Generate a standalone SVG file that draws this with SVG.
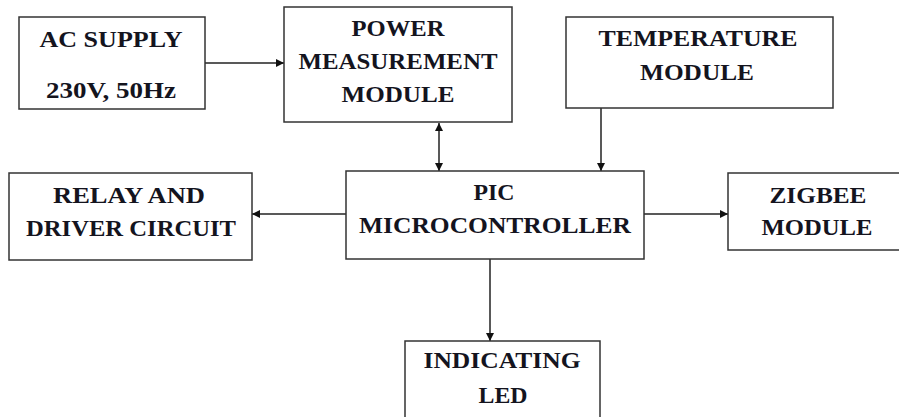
<svg xmlns="http://www.w3.org/2000/svg" width="899" height="417" viewBox="0 0 899 417">
<defs>
<style>
.box{fill:#fff;stroke:#333;stroke-width:1.5}
.t{font-family:'Liberation Serif','Times New Roman',Times,serif;font-weight:700;font-size:23px;fill:#14141e;text-anchor:middle}
.c{stroke:#222;stroke-width:1.5;fill:none}
</style>
<marker id="ah" viewBox="0 0 10 10" refX="10" refY="5" markerWidth="9" markerHeight="8" markerUnits="userSpaceOnUse" orient="auto-start-reverse">
<path d="M0,0 L10,5 L0,10 Z" fill="#111"/>
</marker>
</defs>
<rect width="899" height="417" fill="#fff"/>
<g id="connectors">
<line class="c" x1="205" y1="63" x2="284" y2="63" marker-end="url(#ah)"/>
<line class="c" x1="439" y1="123" x2="439" y2="171" marker-start="url(#ah)" marker-end="url(#ah)"/>
<line class="c" x1="601" y1="108" x2="601" y2="171" marker-end="url(#ah)"/>
<line class="c" x1="346" y1="214" x2="252" y2="214" marker-end="url(#ah)"/>
<line class="c" x1="644" y1="214" x2="728" y2="214" marker-end="url(#ah)"/>
<line class="c" x1="490" y1="259" x2="490" y2="341" marker-end="url(#ah)"/>
</g>
<g id="ac-supply">
<rect class="box" x="19" y="17" width="186" height="92"/>
<text class="t" font-family="Liberation Serif" x="111" y="47" textLength="143" lengthAdjust="spacingAndGlyphs">AC SUPPLY</text>
<text class="t" font-family="Liberation Serif" x="111" y="98" textLength="130" lengthAdjust="spacingAndGlyphs">230V, 50Hz</text>
</g>
<g id="power-measurement">
<rect class="box" x="284" y="7" width="228" height="115"/>
<text class="t" x="398" y="36" textLength="93" lengthAdjust="spacingAndGlyphs">POWER</text>
<text class="t" x="398" y="69" textLength="199" lengthAdjust="spacingAndGlyphs">MEASUREMENT</text>
<text class="t" x="398" y="102" textLength="113" lengthAdjust="spacingAndGlyphs">MODULE</text>
</g>
<g id="temperature">
<rect class="box" x="566" y="17" width="267" height="91"/>
<text class="t" x="698" y="46" textLength="199" lengthAdjust="spacingAndGlyphs">TEMPERATURE</text>
<text class="t" x="697" y="80" textLength="114" lengthAdjust="spacingAndGlyphs">MODULE</text>
</g>
<g id="pic">
<rect class="box" x="346" y="171" width="298" height="88"/>
<text class="t" x="494" y="200" textLength="41" lengthAdjust="spacingAndGlyphs">PIC</text>
<text class="t" x="495" y="233" textLength="272" lengthAdjust="spacingAndGlyphs">MICROCONTROLLER</text>
</g>
<g id="relay">
<rect class="box" x="9" y="173" width="243" height="87"/>
<text class="t" x="129" y="203" textLength="152" lengthAdjust="spacingAndGlyphs">RELAY AND</text>
<text class="t" x="131" y="236" textLength="210" lengthAdjust="spacingAndGlyphs">DRIVER CIRCUIT</text>
</g>
<g id="zigbee">
<rect class="box" x="728" y="173" width="180" height="77"/>
<text class="t" x="818" y="203" textLength="97" lengthAdjust="spacingAndGlyphs">ZIGBEE</text>
<text class="t" x="817" y="235" textLength="111" lengthAdjust="spacingAndGlyphs">MODULE</text>
</g>
<g id="indicating-led">
<rect class="box" x="405" y="341" width="195" height="85"/>
<text class="t" x="502" y="368" textLength="157" lengthAdjust="spacingAndGlyphs">INDICATING</text>
<text class="t" x="503" y="403" textLength="49" lengthAdjust="spacingAndGlyphs">LED</text>
</g>
</svg>
